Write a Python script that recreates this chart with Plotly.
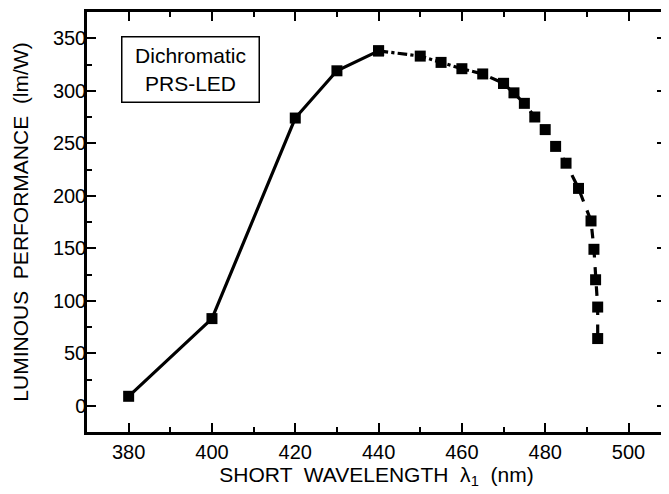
import plotly.graph_objects as go

# Data
wl_solid = [380, 400, 420, 430, 440]
lp_solid = [9, 83, 274, 319, 338]

wl_dashdot = [440, 450, 455, 460, 465, 470]
lp_dashdot = [338, 333, 327, 321, 316, 307]

wl_dash = [470, 472.5, 475, 477.5, 480, 482.5, 485, 488, 491, 491.7, 492.1, 492.6, 492.6]
lp_dash = [307, 298, 288, 275, 263, 247, 231, 207, 176, 149, 120, 94, 64]

x_ticks = [380, 400, 420, 440, 460, 480, 500]
y_ticks = [0, 50, 100, 150, 200, 250, 300, 350]

FONT = "Liberation Sans, Arial, Helvetica, sans-serif"

fig = go.Figure()
line_w = 3.2
mk = dict(symbol="square", size=11, color="black")
fig.add_trace(go.Scatter(x=wl_solid, y=lp_solid, mode="lines+markers",
                         line=dict(color="black", width=line_w, dash="solid"),
                         marker=mk, showlegend=False))
fig.add_trace(go.Scatter(x=wl_dashdot, y=lp_dashdot, mode="lines+markers",
                         line=dict(color="black", width=line_w, dash="dashdot"),
                         marker=mk, showlegend=False))
fig.add_trace(go.Scatter(x=wl_dash, y=lp_dash, mode="lines+markers",
                         line=dict(color="black", width=line_w, dash="dash"),
                         marker=mk, showlegend=False))

axis_common = dict(
    showgrid=False, zeroline=False, showline=True, linecolor="black", linewidth=2.5,
    mirror="ticks", ticks="inside", ticklen=9, tickwidth=2, tickcolor="black",
    tickfont=dict(family=FONT, size=20, color="black"),
)

fig.update_xaxes(range=[370, 509], tickvals=x_ticks, ticklabelstandoff=0,
                 minor=dict(dtick=10, tick0=370, ticks="inside", ticklen=5, tickwidth=1.5, tickcolor="black"),
                 title=dict(text="SHORT  WAVELENGTH  λ<sub>1</sub>  (nm)",
                            font=dict(family=FONT, size=21, color="black"), standoff=6),
                 **axis_common)
fig.update_yaxes(range=[-25, 375], tickvals=y_ticks, ticklabelstandoff=-6,
                 minor=dict(dtick=25, tick0=0, ticks="inside", ticklen=5, tickwidth=1.5, tickcolor="black"),
                 title=dict(text="LUMINOUS  PERFORMANCE  (lm/W)",
                            font=dict(family=FONT, size=21, color="black"), standoff=19),
                 **axis_common)

fig.add_annotation(xref="paper", yref="paper", x=0.1785, y=0.862,
                   text="Dichromatic<br>PRS-LED", showarrow=False,
                   font=dict(family=FONT, size=21, color="black"),
                   width=132, height=60,
                   bordercolor="black", borderwidth=1.5, borderpad=2, bgcolor="white",
                   xanchor="center", yanchor="middle")

# page body has an 8px margin, so the figure is sized/offset to compensate
fig.update_layout(width=661, height=486, margin=dict(l=79, r=0, t=4, b=62),
                  plot_bgcolor="white", paper_bgcolor="white")

fig.write_html("out.html")
